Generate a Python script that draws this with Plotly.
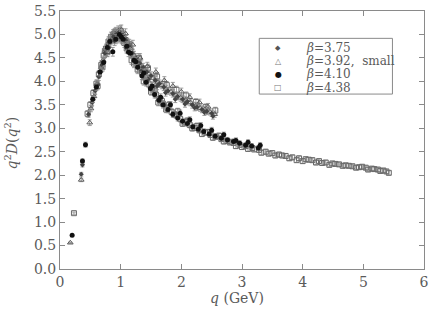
import plotly.graph_objects as go

# ---- data ----
q375 = [0.35, 0.37, 0.47, 0.53, 0.58, 0.64, 0.69, 0.74, 0.79, 0.83, 0.88, 0.93, 0.98, 1.03, 1.08, 1.13,
        1.19, 1.25, 1.31, 1.37, 1.43, 1.5, 1.57, 1.64, 1.71, 1.78, 1.86, 1.94, 2.02, 2.1, 2.18, 2.26,
        2.34, 2.42, 2.5,
        0.62, 0.72, 0.81, 0.9, 1.0, 1.1, 1.22, 1.34, 1.46, 1.6, 1.74, 1.9, 2.06, 2.22, 2.38, 2.52]
v375 = [2.02, 2.22, 3.3, 3.55, 3.8, 4.1, 4.35, 4.6, 4.78, 4.88, 4.95, 5.0, 5.05, 4.98, 4.88, 4.75,
        4.6, 4.5, 4.38, 4.3, 4.2, 4.12, 4.02, 3.95, 3.88, 3.8, 3.74, 3.68, 3.62, 3.57, 3.5, 3.45,
        3.4, 3.36, 3.32,
        3.92, 4.42, 4.72, 4.86, 4.92, 4.7, 4.45, 4.22, 4.05, 3.9, 3.76, 3.62, 3.52, 3.44, 3.34, 3.26]

q392 = [0.17, 0.35, 0.49, 0.51, 0.56, 0.61, 0.66, 0.71, 0.76, 0.81, 0.86, 0.91, 0.96, 1.01, 1.06, 1.11,
        1.16, 1.22, 1.28, 1.34, 1.4, 1.47, 1.54, 1.61, 1.68, 1.75, 1.83, 1.91, 1.99, 2.07, 2.15, 2.23,
        2.31, 2.39, 2.47, 2.55,
        0.68, 0.78, 0.88, 0.98, 1.08, 1.2, 1.32, 1.44, 1.58, 1.72, 1.86, 2.0, 2.14, 2.3, 2.44]
v392 = [0.56, 1.9, 3.12, 3.42, 3.68, 3.95, 4.22, 4.45, 4.68, 4.85, 4.92, 5.02, 5.08, 5.1, 4.95, 4.82,
        4.7, 4.55, 4.45, 4.35, 4.25, 4.16, 4.07, 3.98, 3.92, 3.84, 3.78, 3.7, 3.65, 3.6, 3.55, 3.48,
        3.43, 3.4, 3.35, 3.3,
        4.3, 4.62, 5.0, 4.95, 5.02, 4.78, 4.5, 4.32, 4.2, 4.02, 3.9, 3.78, 3.66, 3.55, 3.46]

q410 = [0.2, 0.37, 0.42, 0.54, 0.6, 0.66, 0.72, 0.78, 0.87, 0.92, 0.98, 1.04, 1.1, 1.16, 1.22, 1.28,
        1.35, 1.42, 1.49, 1.56, 1.63, 1.7, 1.78, 1.86, 1.94, 2.02, 2.1, 2.19, 2.28, 2.37, 2.46, 2.56,
        2.66, 2.76, 2.86, 2.96, 3.06, 3.16, 3.27,
        0.82, 1.01, 1.13, 1.25, 1.38, 1.52, 1.66, 1.82, 1.98, 2.14, 2.32, 2.5, 2.7, 2.9, 3.1, 3.3]
v410 = [0.72, 2.3, 2.65, 3.62, 3.88, 4.2, 4.4, 4.72, 4.63, 4.9, 5.0, 4.9, 4.75, 4.6, 4.45, 4.3,
        4.12, 3.98, 3.85, 3.72, 3.6, 3.5, 3.4, 3.3, 3.22, 3.15, 3.1, 3.03, 2.98, 2.93, 2.88, 2.83,
        2.79, 2.75, 2.72, 2.68, 2.64, 2.62, 2.58,
        4.85, 4.95, 4.62, 4.42, 4.18, 3.9, 3.66, 3.5, 3.32, 3.18, 3.06, 2.96, 2.86, 2.74, 2.7, 2.64]

q438 = [0.23, 0.455, 0.5, 0.55, 0.6, 0.64, 0.68, 0.72, 0.76, 0.8, 0.84, 0.88, 0.92, 0.96, 1.0, 1.04,
        1.08, 1.12, 1.16, 1.2, 1.25, 1.3, 1.35, 1.4, 1.46, 1.52, 1.58, 1.64, 1.7, 1.77, 1.84, 1.91,
        1.98, 2.06, 2.14, 2.22, 2.3, 2.39, 2.48, 2.57, 2.66, 2.76, 2.86, 2.96, 3.06, 3.17, 3.28, 3.39,
        3.5, 3.61, 3.72, 3.83, 3.94, 4.05, 4.16, 4.27, 4.38, 4.49, 4.6, 4.71, 4.82, 4.93, 5.04, 5.14,
        5.24, 5.33, 5.42,
        0.62, 0.7, 0.78, 0.86, 0.94, 1.02, 1.1, 1.18, 1.28, 1.38, 1.5, 1.62, 1.75, 1.88, 2.02, 2.18,
        2.34, 2.52, 2.7, 2.9, 3.1, 3.32, 3.55, 3.78, 4.0, 4.22, 4.44, 4.66, 4.88, 5.08, 5.28,
        0.74, 0.9, 1.06, 1.22, 1.42, 1.56, 1.68, 1.8, 1.94, 2.1, 2.26, 2.44, 2.62, 2.8, 3.0, 3.2,
        3.44, 3.66, 3.9, 4.1, 4.32, 4.54, 4.76, 4.98, 5.18, 5.38,
        1.14, 1.3, 1.45, 1.6, 1.76, 1.92, 2.08, 2.24, 2.4, 2.56]
v438 = [1.19, 3.31, 3.5, 3.75, 3.95, 4.15, 4.35, 4.55, 4.7, 4.85, 4.95, 5.0, 5.05, 5.0, 5.08, 4.95,
        4.88, 4.78, 4.68, 4.55, 4.42, 4.32, 4.2, 4.08, 3.95, 3.85, 3.72, 3.62, 3.52, 3.43, 3.35, 3.28,
        3.2, 3.13, 3.07, 3.01, 2.96, 2.91, 2.86, 2.82, 2.77, 2.73, 2.69, 2.65, 2.62, 2.58, 2.54, 2.5,
        2.47, 2.44, 2.41, 2.38, 2.36, 2.34, 2.32, 2.3, 2.27, 2.25, 2.23, 2.21, 2.19, 2.17, 2.16, 2.14,
        2.12, 2.1, 2.05,
        3.9, 4.3, 4.62, 4.9, 4.92, 4.9, 4.7, 4.45, 4.25, 4.0, 3.78, 3.55, 3.4, 3.3, 3.1, 3.0,
        2.88, 2.8, 2.72, 2.62, 2.56, 2.48, 2.42, 2.36, 2.3, 2.27, 2.22, 2.2, 2.16, 2.12, 2.09,
        4.65, 5.02, 4.82, 4.38, 4.02, 3.8, 3.58, 3.5, 3.36, 3.16, 3.05, 2.92, 2.84, 2.7, 2.6, 2.55,
        2.46, 2.42, 2.32, 2.33, 2.26, 2.24, 2.2, 2.18, 2.13, 2.08,
        4.8, 4.5, 4.28, 4.1, 3.92, 3.82, 3.7, 3.56, 3.45, 3.38]

names = ["<i>β</i>=3.75", "<i>β</i>=3.92,  small", "<i>β</i>=4.10", "<i>β</i>=4.38"]
keys = ["◆", "△", "●", "□"]

FONT = "DejaVu Serif"
TXT = "#5a5a5a"
AX = "#8a8a8a"

fig = go.Figure()
err = dict(type="percent", value=2, color="#888888", thickness=0.8, width=2)

fig.add_trace(go.Scatter(x=q438, y=v438, mode="markers", name=names[3],
                         marker=dict(symbol="square-open", size=5, color="#6a6a6a", line=dict(width=1)),
                         error_y=err))
fig.add_trace(go.Scatter(x=q392, y=v392, mode="markers", name=names[1],
                         marker=dict(symbol="triangle-up-open", size=5, color="#5a5a5a", line=dict(width=1)),
                         error_y=err))
fig.add_trace(go.Scatter(x=q375, y=v375, mode="markers", name=names[0],
                         marker=dict(symbol="diamond", size=4, color="#444444"),
                         error_y=err))
fig.add_trace(go.Scatter(x=q410, y=v410, mode="markers", name=names[2],
                         marker=dict(symbol="circle", size=5, color="#111111"),
                         error_y=err))

# hand-built legend (compact rows like the reference)
row_y = [0.856, 0.805, 0.754, 0.703]
key_sizes = [7, 8, 8, 8]
key_colors = ["#555555", "#777777", "#111111", "#777777"]
annotations = []
for i in range(4):
    annotations.append(dict(text=keys[i], x=0.599, y=row_y[i], xref="paper", yref="paper",
                            xanchor="center", yanchor="middle", showarrow=False,
                            font=dict(family="DejaVu Sans", size=key_sizes[i], color=key_colors[i])))
    annotations.append(dict(text=names[i], x=0.669, y=row_y[i], xref="paper", yref="paper",
                            xanchor="left", yanchor="middle", showarrow=False,
                            font=dict(family=FONT, size=12, color=TXT)))
annotations += [
    dict(text="<i>q</i> (GeV)", x=0.487, y=-0.112, xref="paper", yref="paper",
         xanchor="center", yanchor="middle", showarrow=False,
         font=dict(family=FONT, size=14, color=TXT)),
    dict(text="<i>q</i><sup>2</sup><i>D</i>(<i>q</i><sup>2</sup>)", x=-0.135, y=0.49,
         xref="paper", yref="paper", xanchor="center", yanchor="middle", textangle=-90,
         showarrow=False, font=dict(family=FONT, size=14, color=TXT)),
]

fig.update_layout(
    width=432, height=310,
    margin=dict(l=60, r=3, t=5, b=41),
    plot_bgcolor="white", paper_bgcolor="white",
    font=dict(family=FONT, size=14, color=TXT),
    showlegend=False,
    annotations=annotations,
    shapes=[dict(type="rect", xref="paper", yref="paper", x0=0.5474, x1=0.9133, y0=0.678, y1=0.894,
                 line=dict(color=AX, width=1), fillcolor="rgba(0,0,0,0)")],
)
fig.update_xaxes(range=[0, 6.0001], dtick=1, tick0=0, ticks="inside", ticklen=5, tickcolor=AX,
                 showline=True, linecolor=AX, linewidth=1, mirror="ticks", showgrid=False,
                 zeroline=False, ticklabeloverflow="allow")
fig.update_yaxes(range=[0, 5.5001], dtick=0.5, tick0=0, tickformat=".1f", ticks="inside", ticklen=5,
                 tickcolor=AX, showline=True, linecolor=AX, linewidth=1, mirror="ticks",
                 showgrid=False, zeroline=False, ticklabeloverflow="allow")

fig.write_html("out.html", config={"displayModeBar": False},
               post_script="document.body.style.margin='0';document.body.style.overflow='hidden';")
